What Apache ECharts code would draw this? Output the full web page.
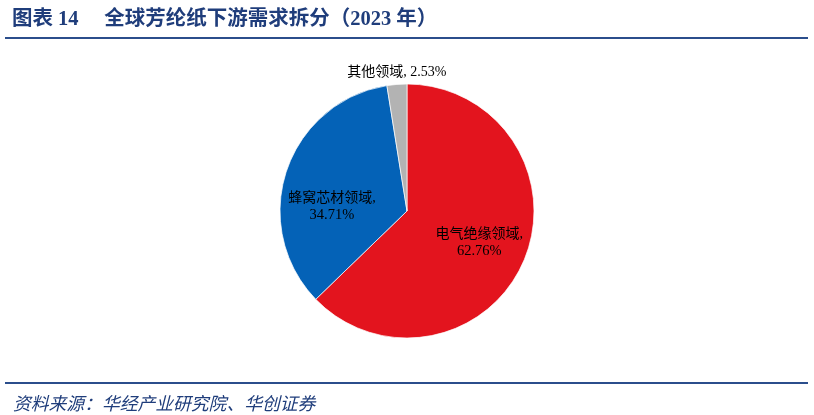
<!DOCTYPE html>
<html>
<head>
<meta charset="utf-8">
<script src="https://cdn.jsdelivr.net/npm/echarts@6/dist/echarts.min.js"></script>
<style>
html,body{margin:0;padding:0;background:#fff;}
#c{width:814px;height:415px;}
</style>
</head>
<body>
<div id="c"></div>
<script>
const categories = ['电气绝缘领域', '蜂窝芯材领域', '其他领域'];
const values = [62.76, 34.71, 2.53];
const colors = ['#E3141E', '#0462B7', '#B3B3B3'];
const labelOffsets = [[11, 6], [-12, 17], [-5, -72]];

const chart = echarts.init(document.getElementById('c'));
const data = categories.map((name, i) => ({
  name: name,
  value: values[i],
  itemStyle: { color: colors[i] },
  label: {
    position: 'inside',
    offset: labelOffsets[i],
    formatter: i === 2 ? '{b}, {c}%' : '{b},\n{n|{c}%}'
  }
}));

chart.setOption({
  animation: false,
  backgroundColor: '#fff',
  title: [{
    text: '图表 14     全球芳纶纸下游需求拆分（2023 年）',
    left: 7, top: 4,
    textStyle: { color: '#1F3D7B', fontSize: 20.5, fontWeight: 'bold', fontFamily: '"Liberation Serif","Noto Sans CJK SC",serif' }
  }, {
    text: '资料来源：华经产业研究院、华创证券',
    left: 8, top: 389,
    textStyle: { color: '#1F3D7B', fontSize: 17.8, fontWeight: 'normal', fontStyle: 'italic', fontFamily: '"Noto Sans CJK SC",sans-serif' }
  }],
  graphic: [
    { type: 'rect', shape: { x: 5, y: 37, width: 803, height: 2 }, style: { fill: '#2B4E8C' } },
    { type: 'rect', shape: { x: 5, y: 382, width: 803, height: 2 }, style: { fill: '#2B4E8C' } }
  ],
  series: [{
    type: 'pie',
    center: [407, 211],
    radius: [0, 127],
    startAngle: 90,
    clockwise: true,
    data: data,
    itemStyle: { borderColor: '#fff', borderWidth: 0.7 },
    label: {
      show: true,
      color: '#000',
      fontSize: 14,
      lineHeight: 17,
      fontFamily: '"Liberation Serif","Noto Sans CJK SC",serif',
      align: 'center',
      rich: { n: { fontSize: 14.5, color: '#000', fontFamily: '"Liberation Serif",serif', lineHeight: 17 } }
    },
    labelLine: { show: false }
  }]
});
</script>
</body>
</html>
